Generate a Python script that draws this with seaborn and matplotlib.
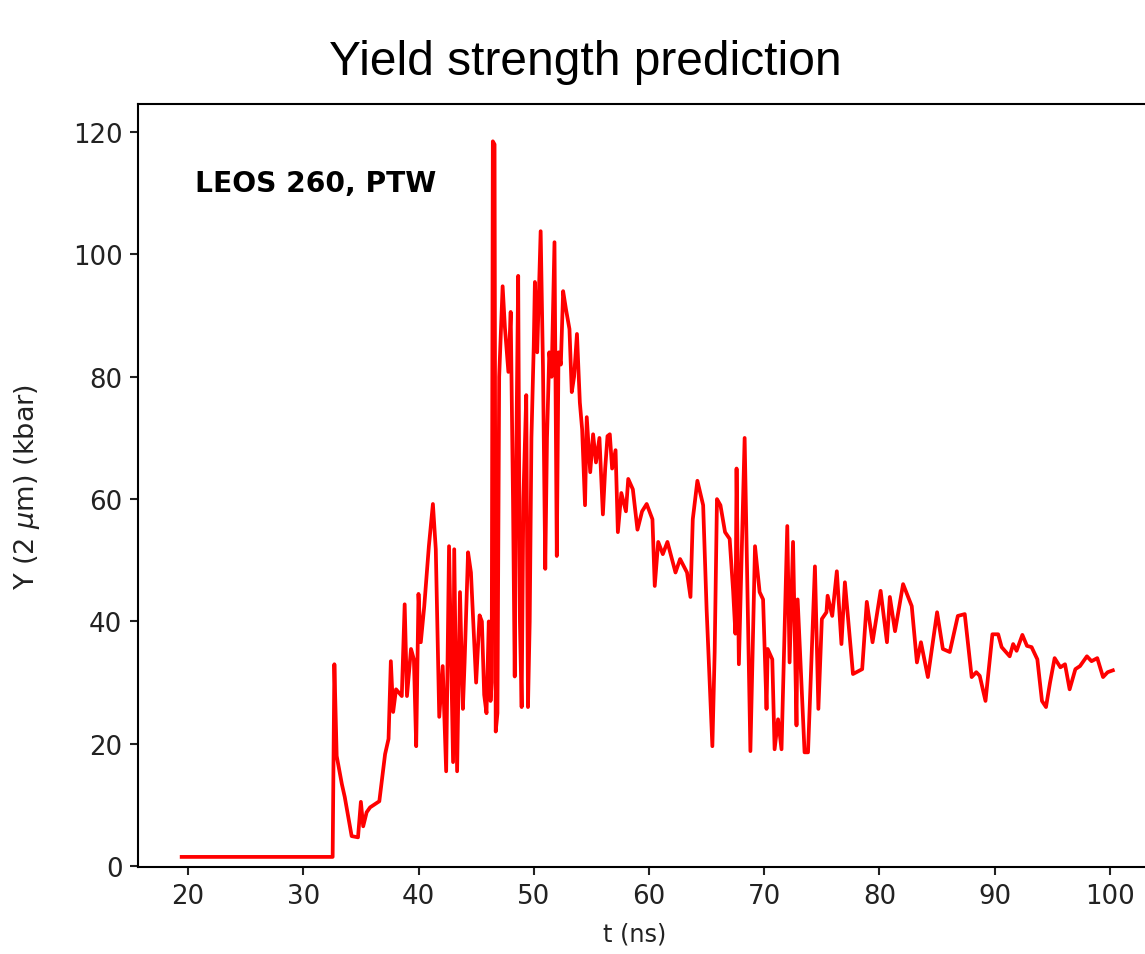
import numpy as np
import pandas as pd
import seaborn as sns
import matplotlib
matplotlib.use("Agg")
import matplotlib.pyplot as plt

# time (ns) and yield strength (kbar)
t_ns = [
    19.45, 32.55, 32.7, 32.9, 33.35, 33.6, 34.2, 34.75, 35.0, 35.2,
    35.5, 35.8, 36.6, 37.1, 37.4, 37.6, 37.8, 38.05, 38.55, 38.8,
    39.0, 39.35, 39.6, 39.8, 40.0, 40.2, 40.5, 40.9, 41.25, 41.5,
    41.8, 42.1, 42.4, 42.65, 43.0, 43.1, 43.35, 43.6, 43.85, 44.0,
    44.3, 44.55, 44.8, 45.0, 45.3, 45.5, 45.7, 45.9, 46.1, 46.25,
    46.35, 46.45, 46.6, 46.7, 46.85, 47.0, 47.3, 47.5, 47.8, 48.0,
    48.2, 48.35, 48.5, 48.65, 48.8, 48.95, 49.1, 49.35, 49.5, 49.65,
    49.8, 50.0, 50.1, 50.3, 50.6, 50.8, 51.0, 51.15, 51.35, 51.55,
    51.8, 52.0, 52.15, 52.35, 52.55, 52.8, 53.1, 53.3, 53.5, 53.75,
    54.0, 54.2, 54.45, 54.6, 54.9, 55.15, 55.4, 55.7, 56.0, 56.2,
    56.4, 56.6, 56.8, 57.1, 57.3, 57.6, 58.0, 58.2, 58.6, 59.0,
    59.4, 59.8, 60.3, 60.5, 60.8, 61.2, 61.6, 62.3, 62.7, 63.3,
    63.6, 63.8, 64.2, 64.7, 65.0, 65.5, 65.7, 65.9, 66.2, 66.6,
    67.0, 67.3, 67.5, 67.6, 67.8, 68.3, 68.8, 69.2, 69.6, 69.9,
    70.2, 70.3, 70.7, 70.9, 71.2, 71.5, 72.0, 72.2, 72.5, 72.8,
    72.9, 73.5, 73.8, 74.4, 74.7, 75.0, 75.4, 75.5, 75.9, 76.3,
    76.7, 77.0, 77.7, 78.5, 78.9, 79.4, 80.1, 80.65, 80.9, 81.35,
    82.05, 82.8, 83.25, 83.6, 84.2, 85.0, 85.5, 86.1, 86.8, 87.4,
    88.0, 88.4, 88.7, 89.2, 89.8, 90.3, 90.6, 91.3, 91.6, 91.9,
    92.4, 92.8, 93.2, 93.7, 94.1, 94.45, 94.8, 95.2, 95.7, 96.1,
    96.5, 97.0, 97.4, 98.0, 98.4, 98.9, 99.4, 99.8, 100.25,
]
yield_kbar = [
    1.5, 1.5, 33.0, 18.0, 13.4, 11.3, 4.9, 4.7, 10.5, 6.5,
    8.8, 9.6, 10.6, 18.3, 20.8, 33.5, 25.2, 28.9, 27.8, 42.8,
    27.8, 35.5, 33.8, 19.6, 44.5, 36.6, 42.5, 52.3, 59.2, 51.8,
    24.4, 32.7, 15.5, 52.3, 17.0, 51.8, 15.5, 44.8, 25.7, 33.3,
    51.3, 48.0, 38.0, 30.0, 41.0, 40.0, 28.0, 25.0, 40.0, 27.0,
    30.0, 118.5, 118.0, 22.0, 25.0, 80.0, 94.8, 88.0, 80.8, 90.6,
    60.0, 31.0, 70.0, 96.5, 40.0, 26.0, 60.0, 77.0, 26.0, 40.0,
    70.0, 85.0, 95.5, 84.0, 103.8, 81.7, 48.6, 70.0, 84.0, 80.0,
    102.0, 50.7, 84.0, 82.0, 94.0, 91.0, 87.8, 77.5, 80.0, 87.0,
    75.8, 71.4, 59.0, 73.4, 64.4, 70.6, 66.0, 70.0, 57.5, 65.0,
    70.3, 70.6, 65.0, 68.0, 54.6, 61.0, 58.0, 63.3, 61.6, 55.0,
    58.0, 59.2, 56.7, 45.8, 53.0, 51.0, 53.0, 48.0, 50.2, 48.0,
    44.0, 56.7, 63.0, 59.0, 42.0, 19.6, 35.0, 60.0, 59.0, 54.6,
    53.5, 45.0, 38.0, 65.0, 33.0, 70.0, 18.8, 52.3, 44.8, 43.6,
    25.7, 35.5, 33.8, 19.1, 24.0, 19.1, 55.6, 33.3, 53.0, 23.0,
    43.6, 18.6, 18.6, 49.0, 25.7, 40.4, 41.5, 44.2, 40.9, 48.2,
    36.3, 46.4, 31.4, 32.2, 43.2, 36.6, 45.0, 36.6, 44.0, 38.4,
    46.1, 42.5, 33.3, 36.6, 30.9, 41.5, 35.5, 35.0, 40.9, 41.2,
    30.9, 31.7, 31.1, 27.0, 37.9, 37.9, 35.8, 34.3, 36.3, 35.2,
    37.8, 36.0, 35.8, 33.8, 27.0, 26.0, 30.0, 34.0, 32.5, 33.0,
    28.9, 32.2, 32.7, 34.3, 33.5, 34.0, 30.9, 31.7, 32.0,
]

title = "Yield strength prediction"
annotation = "LEOS 260, PTW"
x_label = "t (ns)"
y_label = r"Y (2 $\mu$m) (kbar)"


def main():
    df = pd.DataFrame({"t": t_ns, "Y": yield_kbar})

    fig = plt.figure(figsize=(1145 / 150, 955 / 150), dpi=150)
    # right spine sits just outside the picture, as in the cropped original
    ax = fig.add_axes([138 / 1145, 1 - 868 / 955, 1029 / 1145, 763 / 955])

    sns.lineplot(data=df, x="t", y="Y", color="#ff0000", linewidth=1.8,
                 estimator=None, sort=False, ax=ax)

    ax.set_xlim(15.66, 104.95)
    ax.set_ylim(-0.15, 124.6)
    ax.set_xticks(np.arange(20, 101, 10))
    ax.set_yticks(np.arange(0, 121, 20))
    ax.tick_params(labelsize=12.5, colors="#222222", labelcolor="#222222",
                   width=1.0, length=4)
    for sp in ax.spines.values():
        sp.set_linewidth(1.0)
    ax.set_xlabel(x_label, fontsize=11.5, color="#222222")
    ax.set_ylabel(y_label, fontsize=13, color="#222222")
    ax.xaxis.set_label_coords((635 - 138) / 1029, -0.072)
    ax.yaxis.set_label_coords(-0.093, 0.5)

    ax.text(20.6, 110.3, annotation, fontsize=13.5, fontweight="bold",
            va="baseline", ha="left")

    fig.text(585 / 1145, 1 - 75 / 955, title, fontsize=23,
             family=["Liberation Sans", "DejaVu Sans"],
             ha="center", va="baseline")

    fig.savefig("out.png", dpi=150)


if __name__ == "__main__":
    main()
